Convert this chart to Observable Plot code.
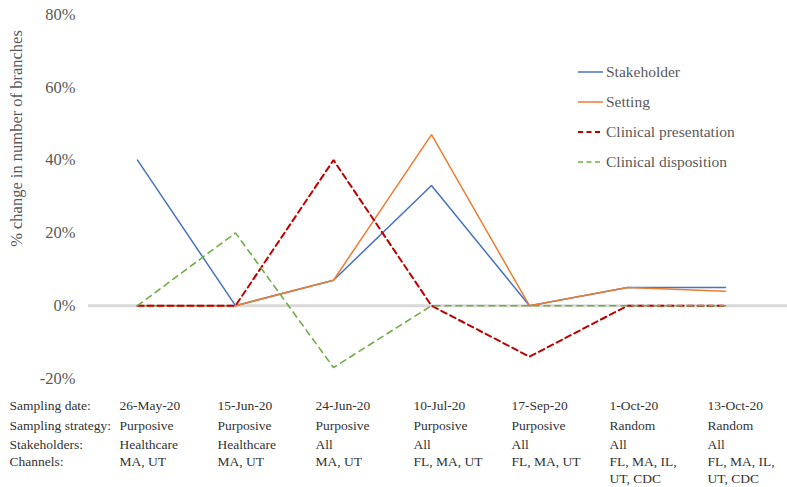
<!DOCTYPE html>
<html>
<head>
<meta charset="utf-8">
<script src="https://cdn.jsdelivr.net/npm/d3@7"></script>
<script src="https://cdn.jsdelivr.net/npm/@observablehq/plot@0.6"></script>
<style>
  html, body { margin: 0; padding: 0; background: #fff; }
</style>
</head>
<body>
<div id="chart"></div>
<script>
const dates = ["26-May-20", "15-Jun-20", "24-Jun-20", "10-Jul-20", "17-Sep-20", "1-Oct-20", "13-Oct-20"];
const strategies = ["Purposive", "Purposive", "Purposive", "Purposive", "Purposive", "Random", "Random"];
const stakeholders = ["Healthcare", "Healthcare", "All", "All", "All", "All", "All"];
const channels = ["MA, UT", "MA, UT", "MA, UT", "FL, MA, UT", "FL, MA, UT", "FL, MA, IL,\nUT, CDC", "FL, MA, IL,\nUT, CDC"];
const rowLabels = ["Sampling date:", "Sampling strategy:", "Stakeholders:", "Channels:"];

const seriesNames = ["Stakeholder", "Setting", "Clinical presentation", "Clinical disposition"];
const stakeholderValues = [40, 0, 7, 33, 0, 5, 5];
const settingValues = [0, 0, 7, 47, 0, 5, 4];
const presentationValues = [0, 0, 40, 0, -14, 0, 0];
const dispositionValues = [0, 20, -17, 0, 0, 0, 0];
const yTicks = [-20, 0, 20, 40, 60, 80];
const yTitle = "% change in number of branches";

const seriesColors = ["#4472C4", "#ED7D31", "#C00000", "#70AD47"];
const seriesDash = [null, null, "6,4", "6,5"];
const seriesWidth = [1.5, 1.5, 2, 1.6];
const seriesValues = [stakeholderValues, settingValues, presentationValues, dispositionValues];

const series = seriesNames.map((name, i) => dates.map((d, j) => ({date: d, value: seriesValues[i][j], series: name})));
const tableRows = [dates, strategies, stakeholders, channels];
const rowOffsets = [18.9, 38.4, 57.4, 74.4];

const tableFont = 13.5;
const tableStyle = {frameAnchor: "bottom-left", textAnchor: "start", lineAnchor: "top", lineHeight: 1.32, fontSize: tableFont, fill: "#333"};

const chart = Plot.plot({
  width: 787,
  height: 487,
  marginTop: 14,
  marginBottom: 109,
  marginLeft: 88,
  marginRight: 0,
  style: {fontFamily: "'Liberation Serif', 'Times New Roman', serif", fontSize: "16.5px", color: "#595959", background: "#fff"},
  x: {type: "point", domain: dates, padding: 0.5, range: [88, 774], axis: null},
  y: {domain: [-20, 80], axis: null},
  marks: [
    Plot.ruleY([0], {stroke: "#d9d9d9", strokeWidth: 3}),
    Plot.axisY({ticks: yTicks, tickFormat: d => d + "%", tickSize: 0, tickPadding: 13, label: null, fontSize: 16.5, fill: "#595959"}),
    Plot.text([yTitle], {frameAnchor: "left", textAnchor: "middle", rotate: -90, dx: -72, dy: -58, fontSize: 16.5, fill: "#595959"}),
    ...series.map((s, i) => Plot.line(s, {
      x: "date", y: "value",
      stroke: seriesColors[i], strokeWidth: seriesWidth[i],
      strokeDasharray: seriesDash[i] || undefined,
      strokeLinejoin: "miter"
    })),
    ...tableRows.map((row, r) => Plot.text(dates.map((d, j) => ({date: d, text: row[j]})), {
      ...tableStyle, x: "date", text: "text", frameAnchor: "bottom", dx: -18, dy: rowOffsets[r]
    })),
    ...rowLabels.map((label, r) => Plot.text([label], {...tableStyle, dx: -79, dy: rowOffsets[r]}))
  ]
});

// Legend
const svg = d3.select(chart);
const lg = svg.append("g").attr("font-size", 15.5).attr("fill", "#595959").attr("text-anchor", "start");
seriesNames.forEach((name, i) => {
  const y = 72 + i * 30;
  lg.append("line").attr("x1", 578).attr("x2", 603).attr("y1", y).attr("y2", y)
    .attr("stroke", seriesColors[i]).attr("stroke-width", seriesWidth[i])
    .attr("stroke-dasharray", seriesDash[i] ? "5,3.5" : null);
  lg.append("text").attr("x", 606).attr("y", y).attr("dy", "0.32em").text(name);
});

document.getElementById("chart").appendChild(chart);
</script>
</body>
</html>
